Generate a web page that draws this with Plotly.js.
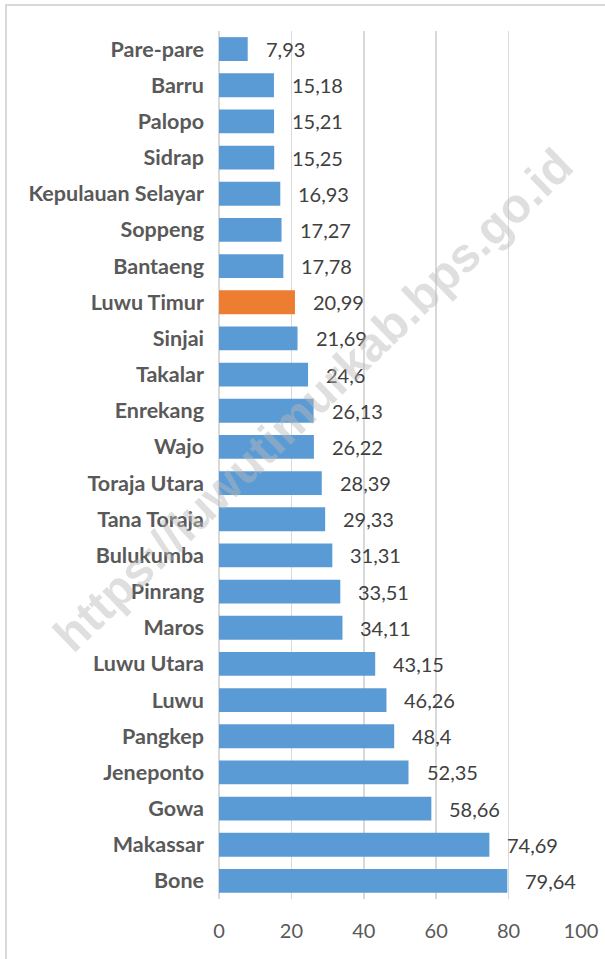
<!DOCTYPE html>
<html>
<head>
<meta charset="utf-8">
<script src="https://cdn.plot.ly/plotly-3.0.1.min.js"></script>
<style>
  html, body { margin: 0; padding: 0; background: #ffffff; overflow: hidden; }
  #wrap { position: relative; width: 605px; height: 959px; overflow: hidden; }
  #frame { position: absolute; left: 5px; top: 4px; width: 640px; height: 1000px; border: 2px solid #d9d9d9; box-sizing: border-box; pointer-events: none; z-index: 2; }
  #chart { position: absolute; left: 0; top: 0; width: 605px; height: 959px; }
</style>
</head>
<body>
<div id="wrap">
  <div id="chart"></div>
  <div id="frame"></div>
</div>
<script>
const categories = ["Pare-pare","Barru","Palopo","Sidrap","Kepulauan Selayar","Soppeng","Bantaeng","Luwu Timur","Sinjai","Takalar","Enrekang","Wajo","Toraja Utara","Tana Toraja","Bulukumba","Pinrang","Maros","Luwu Utara","Luwu","Pangkep","Jeneponto","Gowa","Makassar","Bone"];
const values = [7.93,15.18,15.21,15.25,16.93,17.27,17.78,20.99,21.69,24.6,26.13,26.22,28.39,29.33,31.31,33.51,34.11,43.15,46.26,48.4,52.35,58.66,74.69,79.64];
const highlight = "Luwu Timur";
const xTicks = [0,20,40,60,80,100];
const watermark = "https://luwutimurkab.bps.go.id";

const colors = categories.map(c => c === highlight ? "#ed7d31" : "#5b9bd5");
const fmt = v => String(v).replace(".", ",");

const trace = {
  type: "bar",
  orientation: "h",
  x: values,
  y: categories,
  marker: { color: colors },
  hoverinfo: "none"
};

const labelAnns = values.map((v, i) => ({
  x: v, y: categories[i], xref: "x", yref: "y",
  text: fmt(v), showarrow: false,
  xanchor: "left", yanchor: "middle", xshift: 16,
  font: { family: "Lato, 'Liberation Sans', sans-serif", size: 20, color: "#404040" }
}));

const wm = {
  x: 0.262, y: 0.575, xref: "paper", yref: "paper",
  text: watermark, showarrow: false, textangle: -44,
  xanchor: "center", yanchor: "middle",
  font: { family: "'Liberation Sans', Arial, sans-serif", size: 48, color: "rgba(185,185,185,0.45)", weight: "bold" }
};

const layout = {
  width: 605, height: 959,
  margin: { l: 219, r: 24, t: 31, b: 60 },
  paper_bgcolor: "rgba(0,0,0,0)",
  plot_bgcolor: "rgba(0,0,0,0)",
  showlegend: false,
  bargap: 0.34,
  xaxis: {
    range: [0, 100], tickvals: xTicks, ticktext: xTicks.map(String),
    showgrid: true, gridcolor: "#d9d9d9", gridwidth: 1.5,
    zeroline: true, zerolinecolor: "#d9d9d9", zerolinewidth: 1.5,
    showline: false, ticks: "", ticklabelstandoff: 18,
    tickfont: { family: "Lato, 'Liberation Sans', sans-serif", size: 20, color: "#595959" },
    fixedrange: true
  },
  yaxis: {
    type: "category", autorange: "reversed",
    showgrid: false, zeroline: false, showline: false, ticks: "",
    ticklabelstandoff: 14,
    tickfont: { family: "Lato, 'Liberation Sans', sans-serif", size: 21.5, color: "#595959", weight: "bold" },
    fixedrange: true
  },
  annotations: labelAnns.concat([wm])
};

Plotly.newPlot("chart", [trace], layout, { displayModeBar: false, staticPlot: true });
</script>
</body>
</html>
